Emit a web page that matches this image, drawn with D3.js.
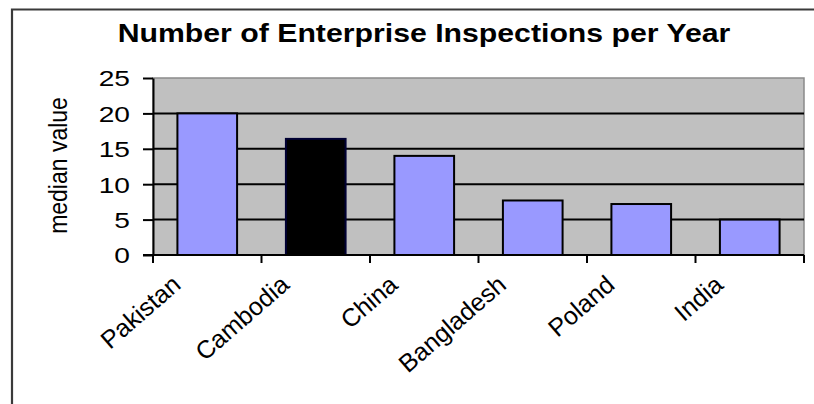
<!DOCTYPE html>
<html>
<head>
<meta charset="utf-8">
<script src="https://cdn.jsdelivr.net/npm/d3@7"></script>
<style>
  html, body { margin: 0; padding: 0; background: #fff; }
  svg { display: block; }
  text { font-family: "Liberation Sans", Arial, sans-serif; fill: #000; }
</style>
</head>
<body>
<svg id="chart" width="814" height="404"></svg>
<script>
// Data
const countries = ["Pakistan", "Cambodia", "China", "Bangladesh", "Poland", "India"];
const medianInspections = [20, 16.4, 14, 7.7, 7.2, 5];
const highlighted = ["Cambodia"];
const yTicks = [0, 5, 10, 15, 20, 25];
const chartTitle = "Number of Enterprise Inspections per Year";
const yAxisTitle = "median value";

// Layout
const W = 814, H = 404;
const plot = { left: 153, right: 804, top: 78, bottom: 255 };
const textStretch = 1.28; // wide, Excel-style lettering

const svg = d3.select("#chart");

// Outer frame (top and left edges)
svg.append("path")
  .attr("d", `M12,${H} L12,9.5 L${W},9.5`)
  .attr("fill", "none")
  .attr("stroke", "#3a3a3a")
  .attr("stroke-width", 2.2);

const x = d3.scaleBand()
  .domain(countries)
  .range([plot.left, plot.right])
  .paddingInner(0.45)
  .paddingOuter(0.225);

const y = d3.scaleLinear()
  .domain([0, 25])
  .range([plot.bottom, plot.top]);

// Plot background
svg.append("rect")
  .attr("x", plot.left)
  .attr("y", plot.top)
  .attr("width", plot.right - plot.left)
  .attr("height", plot.bottom - plot.top)
  .attr("fill", "#c0c0c0")
  .attr("stroke", "#8a8a8a")
  .attr("stroke-width", 1.5);

// Gridlines
svg.append("g")
  .selectAll("line")
  .data(yTicks.filter(t => t > 0 && t < 25))
  .join("line")
  .attr("x1", plot.left)
  .attr("x2", plot.right)
  .attr("y1", d => y(d))
  .attr("y2", d => y(d))
  .attr("stroke", "#000")
  .attr("stroke-width", 2);

// Bars
svg.append("g")
  .selectAll("rect")
  .data(countries.map((c, i) => ({ c, v: medianInspections[i] })))
  .join("rect")
  .attr("x", d => x(d.c))
  .attr("y", d => y(d.v))
  .attr("width", x.bandwidth())
  .attr("height", d => y(0) - y(d.v))
  .attr("fill", d => highlighted.includes(d.c) ? "#000000" : "#9999ff")
  .attr("stroke", d => highlighted.includes(d.c) ? "#000033" : "#000")
  .attr("stroke-width", 2);

// Y axis
const yAxis = svg.append("g")
  .attr("transform", `translate(${plot.left},0)`)
  .call(d3.axisLeft(y).tickValues(yTicks).tickSize(10).tickSizeOuter(0).tickFormat(d3.format("d")));
yAxis.select(".domain").attr("stroke", "#000").attr("stroke-width", 2);
yAxis.selectAll(".tick line").attr("stroke", "#000").attr("stroke-width", 2);
yAxis.selectAll(".tick text")
  .attr("x", 0)
  .attr("dy", "0.36em")
  .attr("text-anchor", "end")
  .attr("transform", `translate(-23,0) scale(${textStretch},1)`)
  .style("font-size", "22px")
  .style("font-family", "'Liberation Sans', Arial, sans-serif")
  .attr("fill", "#000");

// X axis: line with tick marks at category boundaries
const boundaries = countries.map(c => x(c) - x.step() * x.paddingInner() / 2);
boundaries[0] = plot.left;
boundaries.push(plot.right);
const xAxis = svg.append("g");
xAxis.append("line")
  .attr("x1", plot.left - 10).attr("x2", plot.right)
  .attr("y1", y(0)).attr("y2", y(0))
  .attr("stroke", "#000").attr("stroke-width", 2);
xAxis.selectAll("line.tick")
  .data(boundaries)
  .join("line")
  .attr("class", "tick")
  .attr("x1", d => d).attr("x2", d => d)
  .attr("y1", y(0)).attr("y2", y(0) + 8)
  .attr("stroke", "#000").attr("stroke-width", 2);

// Rotated category labels
xAxis.selectAll("text")
  .data(countries)
  .join("text")
  .attr("text-anchor", "end")
  .attr("transform", d => `translate(${x(d) + x.bandwidth() / 2 - 25},${y(0) + 32}) rotate(-41)`)
  .style("font-size", "25px")
  .text(d => d);

// Y axis title
svg.append("text")
  .attr("text-anchor", "middle")
  .attr("transform", `translate(67,${(plot.top + plot.bottom) / 2 - 1}) scale(1.15,1) rotate(-90)`)
  .style("font-size", "23px")
  .text(yAxisTitle);

// Chart title
svg.append("text")
  .attr("text-anchor", "middle")
  .attr("transform", `translate(424,42) scale(1.21,1)`)
  .style("font-size", "25px")
  .style("font-weight", "bold")
  .text(chartTitle);
</script>
</body>
</html>
